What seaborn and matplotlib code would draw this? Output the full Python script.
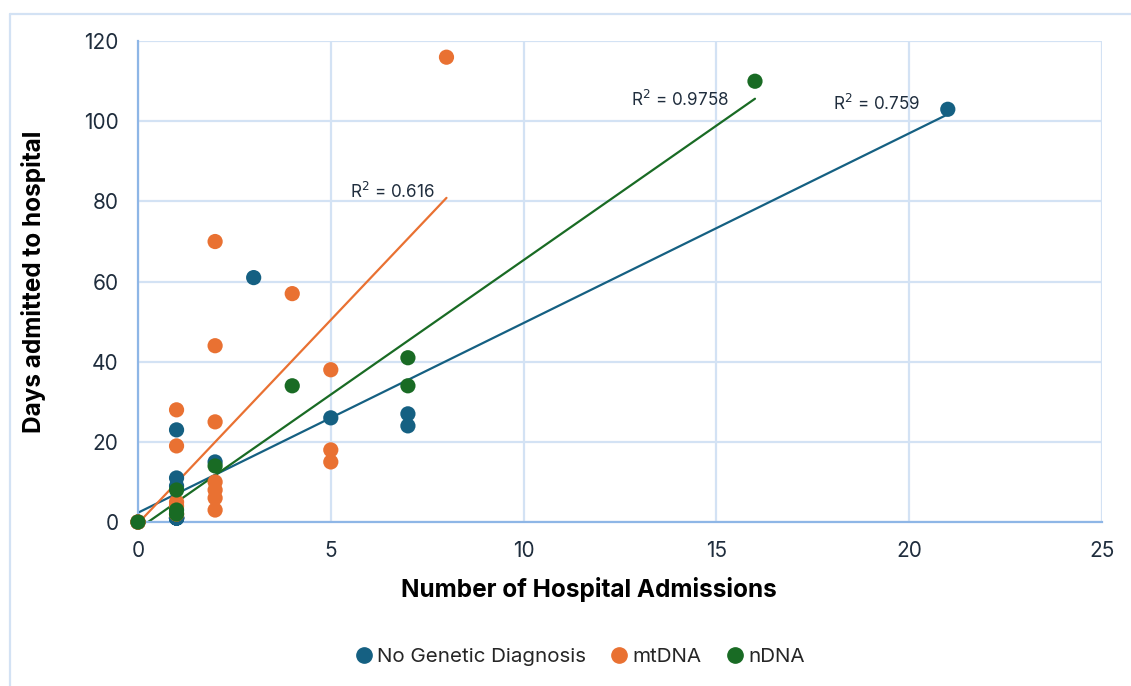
import numpy as np
import pandas as pd
import matplotlib
matplotlib.use('Agg')
import matplotlib.pyplot as plt
import seaborn as sns

sns.set_theme(style='white')
plt.rcParams['font.family'] = ['Inter', 'DejaVu Sans']

# --- data (stacked duplicates at low values are hidden under the visible dots) ---
groups = ['No Genetic Diagnosis', 'mtDNA', 'nDNA']

none_x = [0, 1, 1, 1, 1, 1, 1, 1, 1, 1, 1, 1, 2, 3, 5, 7, 7, 21]
none_y = [0, 23, 11, 9, 1, 1, 1, 1, 1, 1, 1, 1, 15, 61, 26, 27, 24, 103]

mt_x = [0, 0, 0, 1, 1, 1, 1, 1, 1, 2, 2, 2, 2, 2, 2, 2, 4, 5, 5, 5, 8]
mt_y = [0, 0, 0, 28, 19, 5, 4, 2, 2, 70, 44, 25, 10, 8, 6, 3, 57, 38, 18, 15, 116]

n_x = [0, 1, 1, 1, 2, 4, 7, 7, 16]
n_y = [0, 8, 3, 2, 14, 34, 41, 34, 110]

r2_labels = ['R$^2$ = 0.759', 'R$^2$ = 0.616', 'R$^2$ = 0.9758']

colors = {'No Genetic Diagnosis': '#156082', 'mtDNA': '#E97132', 'nDNA': '#196B24'}

df = pd.concat([
    pd.DataFrame({'adm': none_x, 'days': none_y, 'group': groups[0]}),
    pd.DataFrame({'adm': mt_x, 'days': mt_y, 'group': groups[1]}),
    pd.DataFrame({'adm': n_x, 'days': n_y, 'group': groups[2]}),
], ignore_index=True)

fig = plt.figure(figsize=(11.31, 6.86), dpi=100)
ax = fig.add_axes([0.122, 0.239, 0.8524, 0.701])

grid_c = '#D3E2F4'
spine_c = '#8EB6E6'
ax.set_xlim(0, 25)
ax.set_ylim(0, 120)
ax.set_xticks(range(0, 26, 5))
ax.set_yticks(range(0, 121, 20))
ax.grid(True, color=grid_c, lw=1.6)
ax.set_axisbelow(True)
for s in ['top', 'right']:
    ax.spines[s].set_visible(False)
for s in ['left', 'bottom']:
    ax.spines[s].set_color(spine_c)
    ax.spines[s].set_linewidth(1.6)

# trendlines (linear fit over each group's x range)
text_pos = [(19.15, 104.3), (6.59, 82.3), (14.06, 105.3)]
for g, (xs, ys), lab, pos in zip(groups, [(none_x, none_y), (mt_x, mt_y), (n_x, n_y)], r2_labels, text_pos):
    m, b = np.polyfit(xs, ys, 1)
    xx = np.array([min(xs), max(xs)])
    ax.plot(xx, m * xx + b, color=colors[g], lw=1.6, zorder=2)
    ax.text(pos[0], pos[1], lab, color='#1F2D3D', fontsize=12.3, ha='center', va='center')

sns.scatterplot(data=df, x='adm', y='days', hue='group', palette=colors,
                s=120, edgecolor='none', ax=ax, zorder=3, clip_on=False, legend=False)

ax.tick_params(axis='both', length=0, labelsize=15, labelcolor='#1F2D3D', pad=14)
ax.set_xlabel('Number of Hospital Admissions', fontsize=17.5, fontweight='bold', color='black')
ax.xaxis.set_label_coords(0.468, -0.115)
ax.set_ylabel('Days admitted to hospital', fontsize=17.5, fontweight='bold', color='black', labelpad=27)

handles = [plt.Line2D([], [], marker='o', ls='', color=colors[g], markersize=11) for g in groups]
fig.legend(handles, groups, loc='center', bbox_to_anchor=(0.513, 0.043), ncol=3, frameon=False,
           fontsize=14.8, handlelength=0.8, handletextpad=0.25, columnspacing=1.2)

# outer chart frame (only top/left visible in crop)
fig.add_artist(plt.Line2D([10 / 1131, 1], [1 - 14 / 686, 1 - 14 / 686], color=grid_c, lw=1.6))
fig.add_artist(plt.Line2D([10 / 1131, 10 / 1131], [0, 1 - 14 / 686], color=grid_c, lw=1.6))

fig.savefig('out.png', dpi=100)
